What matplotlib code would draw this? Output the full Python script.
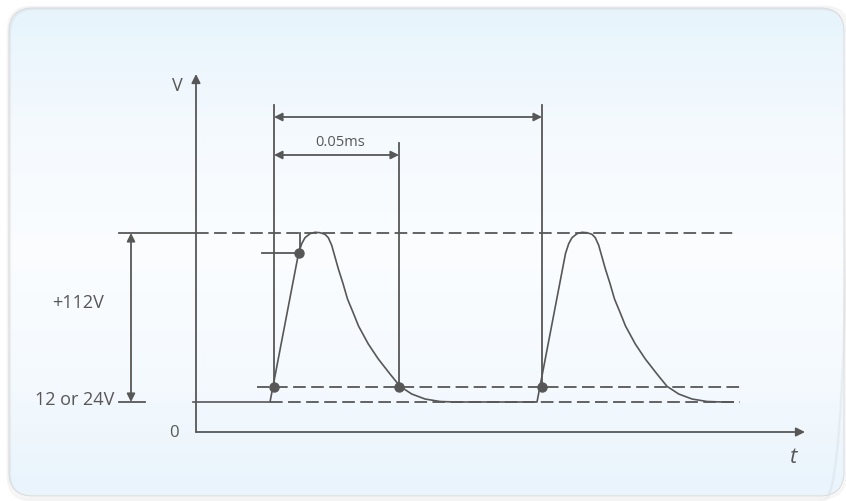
import numpy as np
import matplotlib
matplotlib.use("Agg")
import matplotlib.pyplot as plt
from matplotlib.patches import FancyBboxPatch

plt.rcParams['font.family'] = ['Open Sans', 'DejaVu Sans']

# schematic units: t to the right of the V axis, v above the t axis
# voltage levels
base_v = 30
low_v = 45      # lower marker level
high_v = 179    # upper marker level
peak_v = 199

# one pulse (t offset from start of rise, v)
pulse_dt = [0, 28.5, 31.7, 35, 40, 45, 50, 55, 58.3, 61.7, 65, 68.3, 73, 77.5, 83.3,
            88.5, 98.3, 108.3, 120, 130, 141.7, 155, 170, 185]
pulse_v = [30, 178.5, 188.3, 194.3, 198.3, 199.7, 199.3, 197.7, 194.3, 186.7, 175, 163.3,
           148.5, 133, 119, 106, 88, 73, 58, 45.7, 38, 33, 30.5, 30]
pulse_starts = [74, 341]
trace_start = -3
trace_end = 537

# marker dots
dot_t = [78, 103, 203, 346]
dot_v = [low_v, high_v, low_v, low_v]

# vertical reference lines (t, top v)
ref_t = [78, 203, 346]
ref_top = [327, 289, 327]

# dimension arrows
long_arrow = (78, 346, 315)
short_arrow = (78, 203, 277)
amp_arrow_t = -65

# text labels
dim_label = "0.05ms"
amp_label = "+112V"
base_label = "12 or 24V"

ink = '#575757'

fig = plt.figure(figsize=(8.46, 5.02), dpi=100)

# background panel
bg = fig.add_axes([0, 0, 1, 1])
bg.set_xlim(0, 846)
bg.set_ylim(502, 0)
bg.axis('off')
for k, a in enumerate([0.06, 0.05, 0.05, 0.07]):
    sh = FancyBboxPatch((9 - k + 1.5, 9 - k + 1.5), 835 + 2 * k, 488 + 2 * k,
                        boxstyle="round,pad=0,rounding_size=24",
                        fc='none', ec='#808080', lw=1.2, alpha=a)
    bg.add_patch(sh)
panel = FancyBboxPatch((9, 9), 835, 488, boxstyle="round,pad=0,rounding_size=24",
                       fc='none', ec='#dcdcdc', lw=0.8)
bg.add_patch(panel)
grad = np.array([[0.906, 0.957, 0.988],
                 [0.960, 0.980, 0.996],
                 [0.984, 0.992, 1.000],
                 [0.960, 0.980, 0.996],
                 [0.914, 0.957, 0.988]])
rows = np.linspace(0, 1, 200)
img = np.stack([np.interp(rows, np.linspace(0, 1, len(grad)), grad[:, c]) for c in range(3)], axis=-1)
img = img[:, None, :]
im = bg.imshow(img, extent=(9, 844, 497, 9), aspect='auto', interpolation='bilinear')
im.set_clip_path(panel)

ax = fig.add_axes([0, 0, 1, 1])
ax.set_xlim(-196, 650)
ax.set_ylim(-69, 433)
ax.axis('off')
ax.patch.set_alpha(0)

lw = 1.3
dash = (0, (7, 3))

# axes with arrows
ax.annotate('', xy=(0, 358), xytext=(0, 0),
            arrowprops=dict(arrowstyle='-|>', color=ink, lw=lw, mutation_scale=13,
                            shrinkA=0, shrinkB=0))
ax.annotate('', xy=(609, 0), xytext=(0, 0),
            arrowprops=dict(arrowstyle='-|>', color=ink, lw=lw, mutation_scale=13,
                            shrinkA=0, shrinkB=0))

# level lines
ax.plot([-77, 0], [peak_v, peak_v], color=ink, lw=lw)
ax.plot([0, 541], [peak_v, peak_v], color=ink, lw=lw, ls=dash)
ax.plot([61, 544], [low_v, low_v], color=ink, lw=lw, ls=dash)
ax.plot([pulse_starts[0], 544], [base_v, base_v], color=ink, lw=lw, ls=dash)
ax.plot([-77, -51], [base_v, base_v], color=ink, lw=lw)

# signal trace
trace_t = [trace_start]
trace_v = [base_v]
for t0 in pulse_starts:
    trace_t += [t0 + d for d in pulse_dt]
    trace_v += pulse_v
trace_t.append(trace_end)
trace_v.append(base_v)
ax.plot(trace_t, trace_v, color=ink, lw=1.2, solid_joinstyle='round')

# reference verticals
for t, top in zip(ref_t, ref_top):
    ax.plot([t, t], [low_v, top], color=ink, lw=lw)

# upper marker tick lines
ax.plot([66, dot_t[1]], [high_v, high_v], color=ink, lw=lw)
ax.plot([dot_t[1] + 1, dot_t[1] + 1], [high_v, peak_v], color=ink, lw=lw)

ax.plot(dot_t, dot_v, 'o', color=ink, ms=6.5, zorder=5)

# dimension arrows
for a, b, v in [long_arrow, short_arrow]:
    ax.annotate('', xy=(b, v), xytext=(a, v),
                arrowprops=dict(arrowstyle='<|-|>', color=ink, lw=lw, mutation_scale=12,
                                shrinkA=0, shrinkB=0))
ax.annotate('', xy=(amp_arrow_t, peak_v), xytext=(amp_arrow_t, base_v),
            arrowprops=dict(arrowstyle='<|-|>', color=ink, lw=lw, mutation_scale=12,
                            shrinkA=0, shrinkB=0))

# labels
ax.text(144, 291, dim_label, color=ink, fontsize=10.5, ha='center', va='center')
ax.text(-118, 130, amp_label, color=ink, fontsize=13, ha='center', va='center')
ax.text(-82, 33, base_label, color=ink, fontsize=13, ha='right', va='center')
ax.text(-22, 0, '0', color=ink, fontsize=12, ha='center', va='center')
ax.text(-19, 347, 'V', color=ink, fontsize=13, ha='center', va='center')
ax.text(598, -25, 't', color=ink, fontsize=16, ha='center', va='center', style='italic')

fig.savefig('out.png', dpi=100)
